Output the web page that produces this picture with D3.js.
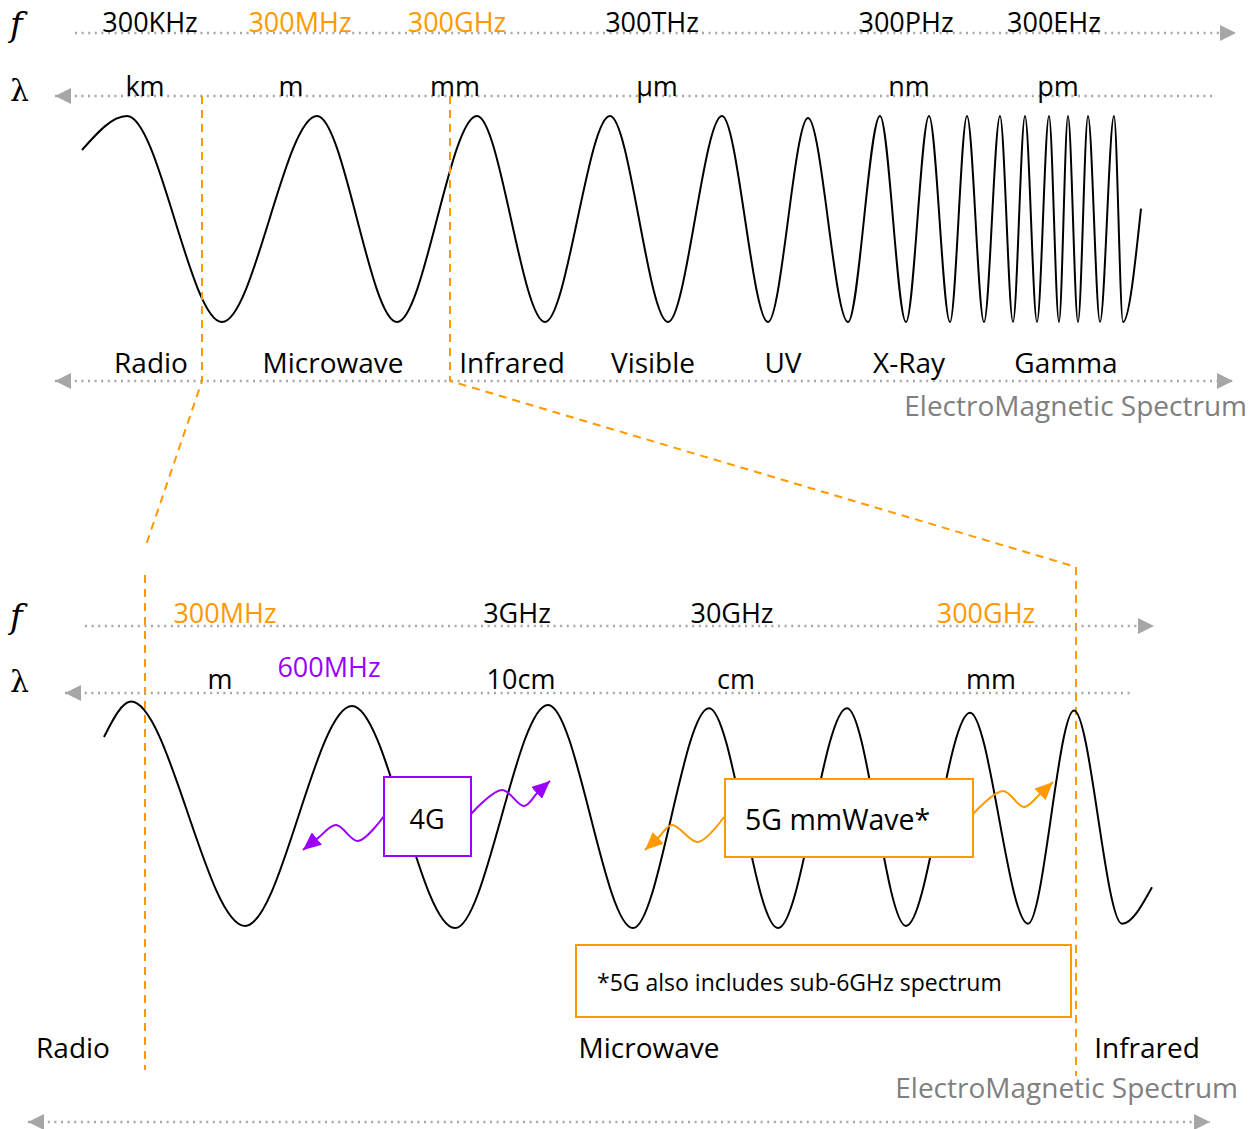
<!DOCTYPE html>
<html>
<head>
<script src="https://d3js.org/d3.v7.min.js"></script>
<style>
  body { margin: 0; background: #fff; }
  svg text { font-family: "Open Sans", sans-serif; }
</style>
</head>
<body>
<svg id="chart" width="1259" height="1129"></svg>
<script>
// ---------- data ----------
// full spectrum (top panel)
let topFreqLabels = ['300KHz', '300MHz', '300GHz', '300THz', '300PHz', '300EHz'];
let topFreqAt     = [150, 300, 457, 652, 906, 1054];
let topFreqMark   = [0, 1, 1, 0, 0, 0];
let topWaveLabels = ['km', 'm', 'mm', 'µm', 'nm', 'pm'];
let topWaveAt     = [145, 291, 455, 657, 909, 1058];
let topBands      = ['Radio', 'Microwave', 'Infrared', 'Visible', 'UV', 'X-Ray', 'Gamma'];
let topBandsAt    = [151, 333, 512, 653, 783, 909, 1066];

// wave extrema of the top panel (position, amplitude)
let topWaveX   = [82, 127, 222, 317, 397, 477, 545, 610, 668, 722, 768, 808, 848, 880, 906, 929, 950, 967, 984, 1000, 1013, 1025, 1037, 1049, 1059, 1068, 1078, 1088, 1100, 1114, 1123, 1141];
let topWaveAmp = [0.67, 1, -1, 1, -1, 1, -1, 1, -1, 1, -1, 0.98, -1, 1, -1, 1, -1, 1, -1, 1, -1, 1, -1, 1, -1, 1, -1, 1, -1, 1, -1, 0.1];

// zoomed microwave range (bottom panel)
let botFreqLabels = ['300MHz', '3GHz', '30GHz', '300GHz'];
let botFreqAt     = [225, 517, 732, 986];
let botFreqMark   = [1, 0, 0, 1];
let botWaveLabels = ['m', '10cm', 'cm', 'mm'];
let botWaveAt     = [220, 521, 736, 991];
let botBands      = ['Radio', 'Microwave', 'Infrared'];
let botBandsAt    = [73, 649, 1147];

let botWaveX   = [104, 131, 245, 352, 455, 548, 633, 709, 778, 847, 906, 970, 1028, 1074, 1122, 1152];
let botWaveAmp = [0.72, 1.04, -0.99, 1.0, -1.01, 1.01, -1.01, 0.98, -1.01, 0.98, -0.99, 0.94, -0.97, 0.96, -0.97, -0.64];

let orange = '#ff9900';
let purple = '#9a00ff';
let gray = '#a6a6a6';

// ---------- setup ----------
let svg = d3.select('#chart');
let x = d3.scaleLinear().domain([0, 1259]).range([0, 1259]);
let yTop = d3.scaleLinear().domain([-1, 1]).range([322, 116]);
let yBot = d3.scaleLinear().domain([-1, 1]).range([927, 706]);

let defs = svg.append('defs');
function marker(id, color, len, half) {
   defs.append('marker')
      .attr('id', id)
      .attr('markerUnits', 'userSpaceOnUse')
      .attr('viewBox', `0 ${-half} ${len} ${half * 2}`)
      .attr('markerWidth', len)
      .attr('markerHeight', half * 2)
      .attr('refX', len)
      .attr('refY', 0)
      .attr('orient', 'auto-start-reverse')
      .append('path')
      .attr('d', `M0,${-half}L${len},0L0,${half}Z`)
      .attr('fill', color);
}
marker('grayHead', gray, 16, 8);
marker('purpleHead', purple, 18, 8);
marker('orangeHead', orange, 18, 8);

// dotted gray axis with arrowheads
function axisLine(y, x1, x2, startArrow, endArrow) {
   let l = svg.append('line')
      .attr('x1', x(x1)).attr('x2', x(x2))
      .attr('y1', y).attr('y2', y)
      .attr('stroke', gray)
      .attr('stroke-width', 2.5)
      .attr('stroke-dasharray', '2,4.6');
   if (startArrow) l.attr('marker-start', 'url(#grayHead)');
   if (endArrow) l.attr('marker-end', 'url(#grayHead)');
}

function labels(names, at, y, size, colorFn) {
   svg.append('g').selectAll('text')
      .data(names)
      .join('text')
      .attr('x', (d, i) => x(at[i]))
      .attr('y', y)
      .attr('text-anchor', 'middle')
      .attr('font-size', size)
      .attr('fill', (d, i) => colorFn(i))
      .text(d => d);
}

function symbols(yf, yl) {
   svg.append('text').attr('x', 10).attr('y', yf)
      .style('font-family', '"DejaVu Serif", serif')
      .attr('font-style', 'italic').attr('font-size', 34).text('f');
   svg.append('text').attr('x', 10).attr('y', yl)
      .style('font-family', '"DejaVu Serif", serif')
      .attr('font-size', 30).text('λ');
}

let waveLine = (yScale) => d3.line()
   .x(d => x(d[0]))
   .y(d => yScale(d[1]))
   .curve(d3.curveMonotoneX);

// ---------- top panel ----------
symbols(36, 101);
axisLine(33, 75, 1236, false, true);
axisLine(96, 55, 1215, true, false);
axisLine(381, 55, 1233, true, true);

labels(topFreqLabels, topFreqAt, 32, 27, i => topFreqMark[i] ? orange : '#000');
labels(topWaveLabels, topWaveAt, 96, 27, i => '#000');
labels(topBands, topBandsAt, 373, 28, i => '#000');

svg.append('path')
   .datum(topWaveX.map((v, i) => [v, topWaveAmp[i]]))
   .attr('d', waveLine(yTop))
   .attr('fill', 'none')
   .attr('stroke', '#000')
   .attr('stroke-width', 2);

svg.append('text')
   .attr('x', 1247).attr('y', 416)
   .attr('text-anchor', 'end')
   .attr('font-size', 28)
   .attr('fill', '#7f7f7f')
   .text('ElectroMagnetic Spectrum');

// zoom guides
let guides = [
   [[202, 96], [202, 381], [145, 548]],
   [[450, 96], [450, 381], [1076, 567]],
   [[145, 575], [145, 1070]],
   [[1076, 567], [1076, 1076]]
];
svg.append('g').selectAll('path')
   .data(guides)
   .join('path')
   .attr('d', d3.line().x(d => x(d[0])).y(d => d[1]))
   .attr('fill', 'none')
   .attr('stroke', orange)
   .attr('stroke-width', 2)
   .attr('stroke-dasharray', '8,6');

// ---------- bottom panel ----------
symbols(628, 692);
axisLine(626, 85, 1154, false, true);
axisLine(693, 65, 1130, true, false);
axisLine(1122, 28, 1210, true, true);

labels(botFreqLabels, botFreqAt, 623, 27, i => botFreqMark[i] ? orange : '#000');
labels(botWaveLabels, botWaveAt, 689, 27, i => '#000');
labels(['600MHz'], [329], 677, 27, i => purple);
labels(botBands, botBandsAt, 1058, 28, i => '#000');

svg.append('path')
   .datum(botWaveX.map((v, i) => [v, botWaveAmp[i]]))
   .attr('d', waveLine(yBot))
   .attr('fill', 'none')
   .attr('stroke', '#000')
   .attr('stroke-width', 2);

svg.append('text')
   .attr('x', 1238).attr('y', 1098)
   .attr('text-anchor', 'end')
   .attr('font-size', 28)
   .attr('fill', '#7f7f7f')
   .text('ElectroMagnetic Spectrum');

// wavy arrows
let squiggles = [
   {c: purple, m: 'purpleHead', p: [[384, 816], [358, 841], [336, 825], [318, 838], [303, 850]]},
   {c: purple, m: 'purpleHead', p: [[471, 814], [502, 790], [524, 806], [538, 792], [550, 781]]},
   {c: orange, m: 'orangeHead', p: [[724, 817], [698, 842], [672, 825], [658, 838], [645, 850]]},
   {c: orange, m: 'orangeHead', p: [[973, 814], [1003, 791], [1024, 807], [1040, 794], [1053, 782]]}
];
svg.append('g').selectAll('path')
   .data(squiggles)
   .join('path')
   .attr('d', d => d3.line().x(p => x(p[0])).y(p => p[1]).curve(d3.curveCatmullRom)(d.p))
   .attr('fill', 'none')
   .attr('stroke', d => d.c)
   .attr('stroke-width', 2)
   .attr('marker-end', d => `url(#${d.m})`);

// boxes
let boxes = [
   {x0: 384, y0: 777, x1: 471, y1: 856, c: purple, text: '4G', tx: 427, ty: 829, anchor: 'middle', size: 27},
   {x0: 725, y0: 779, x1: 973, y1: 857, c: orange, text: '5G mmWave*', tx: 745, ty: 830, anchor: 'start', size: 28.5},
   {x0: 576, y0: 945, x1: 1071, y1: 1017, c: orange, text: '*5G also includes sub-6GHz spectrum', tx: 597, ty: 991, anchor: 'start', size: 23}
];
let bg = svg.append('g').selectAll('g').data(boxes).join('g');
bg.append('rect')
   .attr('x', d => x(d.x0)).attr('y', d => d.y0)
   .attr('width', d => x(d.x1) - x(d.x0)).attr('height', d => d.y1 - d.y0)
   .attr('fill', '#fff')
   .attr('stroke', d => d.c)
   .attr('stroke-width', 2);
bg.append('text')
   .attr('x', d => x(d.tx)).attr('y', d => d.ty)
   .attr('text-anchor', d => d.anchor)
   .attr('font-size', d => d.size)
   .text(d => d.text);
</script>
</body>
</html>
